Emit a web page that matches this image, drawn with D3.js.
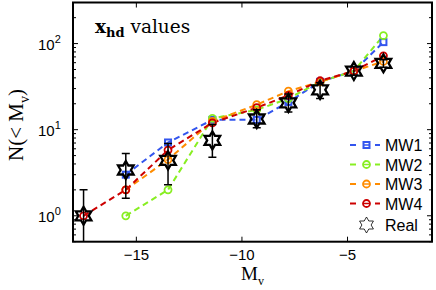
<!DOCTYPE html>
<html><head><meta charset="utf-8">
<script src="https://cdn.jsdelivr.net/npm/d3@7"></script>
<style>body{margin:0;background:#fff}svg{display:block}</style>
</head><body>
<script>
// ---- data ----
const realX   = [-17.5, -15.5, -13.5, -11.4, -9.3, -7.8, -6.3, -4.7, -3.3];
const realN   = [1, 3.4, 4.4, 7.5, 13.3, 20.5, 29, 48, 59];
const realHi  = [2, 5.3, 6.9, 11.5, 17, 26, 35, 54, 65];
const realLo  = [0.1, 1.6, 2.3, 4.8, 10.5, 16, 23, 43, 53];

const mw1X = [-15.5, -13.5, -11.4, -9.3, -7.8, -6.3, -4.7, -3.3];
const mw1N = [3, 7.1, 13, 13, 21, 36, 48, 104];
const mw2X = [-15.5, -13.5, -11.4, -9.3, -7.8, -6.3, -4.7, -3.3];
const mw2N = [1, 2, 13.5, 17, 23, 36, 48, 124];
const mw3X = [-15.5, -13.5, -11.4, -9.3, -7.8, -6.3, -4.7, -3.3];
const mw3N = [2, 4.5, 12.5, 19.5, 28, 36, 48, 62];
const mw4X = [-17.5, -15.5, -13.5, -11.4, -9.3, -7.8, -6.3, -4.7, -3.3];
const mw4N = [1, 2, 5.8, 12, 18, 25, 37, 48, 72];

const seriesNames  = ["MW1", "MW2", "MW3", "MW4"];
const seriesColors = ["#3355ee", "#88ee22", "#ff8c00", "#cc0000"];
const seriesShapes = ["square", "circle", "circle", "circle"];
const xTicks = [-15, -10, -5];
const yTicks = [1, 10, 100];
const yTickExp = ["0", "1", "2"];

const series = [
  {x: mw1X, n: mw1N}, {x: mw2X, n: mw2N}, {x: mw3X, n: mw3N}, {x: mw4X, n: mw4N}
];

// ---- layout ----
const W = 436, H = 290;
const L = 73, R = 432, T = 2.5, B = 241.7;
const svg = d3.select("body").append("svg").attr("width", W).attr("height", H);

const x = d3.scaleLinear().domain([-18, -1]).range([L, R]);
const y = d3.scaleLog().domain([0.5, 300]).range([B, T]);

svg.append("defs").append("clipPath").attr("id", "clip")
  .append("rect").attr("x", L).attr("y", T).attr("width", R - L).attr("height", B - T);

const sans = "Liberation Sans, Arial, sans-serif";
const serif = "Liberation Serif, Times New Roman, serif";
const wserif = "DejaVu Serif, serif";

// ticks
const tickG = svg.append("g").attr("stroke", "#000").attr("stroke-width", 1);
xTicks.forEach(v => {
  tickG.append("line").attr("x1", x(v)).attr("x2", x(v)).attr("y1", B).attr("y2", B - 5);
  tickG.append("line").attr("x1", x(v)).attr("x2", x(v)).attr("y1", T).attr("y2", T + 5);
});
const minor = [];
[0.1, 1, 10, 100].forEach(d => { for (let k = 2; k <= 9; k++) { const v = d * k; if (v >= 0.5 && v <= 300) minor.push(v); } });
minor.forEach(v => {
  tickG.append("line").attr("x1", L).attr("x2", L + 3).attr("y1", y(v)).attr("y2", y(v));
  tickG.append("line").attr("x1", R).attr("x2", R - 3).attr("y1", y(v)).attr("y2", y(v));
});
yTicks.forEach(v => {
  tickG.append("line").attr("x1", L).attr("x2", L + 5).attr("y1", y(v)).attr("y2", y(v));
  tickG.append("line").attr("x1", R).attr("x2", R - 5).attr("y1", y(v)).attr("y2", y(v));
});

// tick labels
xTicks.forEach(v => {
  svg.append("text").attr("x", x(v)).attr("y", 259.5).attr("text-anchor", "middle")
    .attr("font-family", sans).attr("font-size", 15).text("\u2212" + Math.abs(v));
});
yTicks.forEach((v, i) => {
  const t = svg.append("text").attr("x", 38).attr("y", y(v) + 6.7)
    .attr("font-family", sans).attr("font-size", 15);
  t.append("tspan").text("10");
  t.append("tspan").attr("dy", -7).attr("font-size", 11).text(yTickExp[i]);
});

// data lines
const plot = svg.append("g").attr("clip-path", "url(#clip)");
const lineGen = d3.line().x(d => x(d[0])).y(d => y(d[1]));
series.forEach((s, i) => {
  const pts = s.x.map((v, j) => [v, s.n[j]]);
  plot.append("path").attr("d", lineGen(pts)).attr("fill", "none")
    .attr("stroke", seriesColors[i]).attr("stroke-width", 2).attr("stroke-dasharray", "6,4");
});
function marker(g, shape, cx, cy, color) {
  if (shape === "square") {
    g.append("rect").attr("x", cx - 3).attr("y", cy - 3).attr("width", 6).attr("height", 6)
      .attr("fill", "none").attr("stroke", color).attr("stroke-width", 2);
  } else {
    g.append("circle").attr("cx", cx).attr("cy", cy).attr("r", 3.5)
      .attr("fill", "none").attr("stroke", color).attr("stroke-width", 1.8);
  }
}
series.forEach((s, i) => {
  s.x.forEach((v, j) => marker(plot, seriesShapes[i], x(v), y(s.n[j]), seriesColors[i]));
});

// error bars & stars
function hexagram(cx, cy, Ro) {
  const ri = Ro / Math.sqrt(3);
  const pts = [];
  for (let k = 0; k < 12; k++) {
    const a = -Math.PI / 2 + k * Math.PI / 6;
    const rr = k % 2 === 0 ? Ro : ri;
    pts.push([cx + rr * Math.cos(a), cy + rr * Math.sin(a)]);
  }
  return "M" + pts.map(p => p.join(",")).join("L") + "Z";
}
realX.forEach((v, j) => {
  const cx = x(v);
  plot.append("line").attr("x1", cx).attr("x2", cx).attr("y1", y(realLo[j])).attr("y2", y(realHi[j]))
    .attr("stroke", "#000").attr("stroke-width", 1.5);
  [realLo[j], realHi[j]].forEach(e => {
    plot.append("line").attr("x1", cx - 4).attr("x2", cx + 4).attr("y1", y(e)).attr("y2", y(e))
      .attr("stroke", "#000").attr("stroke-width", 1.5);
  });
  plot.append("path").attr("d", hexagram(cx, y(realN[j]), 9))
    .attr("fill", "none").attr("stroke", "#000").attr("stroke-width", 2.3).attr("stroke-linejoin", "miter");
});

// frame
svg.append("rect").attr("x", L).attr("y", T).attr("width", R - L).attr("height", B - T)
  .attr("fill", "none").attr("stroke", "#000").attr("stroke-width", 2);

// legend
const legY = [145, 164.5, 184, 203.5];
seriesNames.forEach((nm, i) => {
  const cy = legY[i];
  const g = svg.append("g");
  g.append("line").attr("x1", 350).attr("x2", 356).attr("y1", cy).attr("y2", cy)
    .attr("stroke", seriesColors[i]).attr("stroke-width", 2);
  g.append("line").attr("x1", 375).attr("x2", 380).attr("y1", cy).attr("y2", cy)
    .attr("stroke", seriesColors[i]).attr("stroke-width", 2);
  g.append("line").attr("x1", 363).attr("x2", 370).attr("y1", cy).attr("y2", cy)
    .attr("stroke", seriesColors[i]).attr("stroke-width", 1.5);
  marker(g, seriesShapes[i], 366.5, cy, seriesColors[i]);
  g.append("text").attr("x", 385).attr("y", cy + 6).attr("font-family", sans)
    .attr("font-size", 16).text(nm);
});
svg.append("path").attr("d", hexagram(366.5, 225, 8)).attr("fill", "#fff")
  .attr("stroke", "#000").attr("stroke-width", 0.8);
svg.append("text").attr("x", 385).attr("y", 231).attr("font-family", sans)
  .attr("font-size", 16).text("Real");

// title
const tt = svg.append("text").attr("x", 95).attr("y", 33).attr("font-family", wserif).attr("font-size", 18.5);
tt.append("tspan").attr("font-weight", "bold").text("x");
tt.append("tspan").attr("font-weight", "bold").attr("font-size", 13).attr("dy", 4).text("hd");
tt.append("tspan").attr("dy", -4).text(" values");

// axis labels
const xl = svg.append("text").attr("x", 241).attr("y", 279.5).attr("font-family", serif).attr("font-size", 19);
xl.append("tspan").text("M");
xl.append("tspan").attr("font-size", 12).attr("dy", 5).text("v");

const yl = svg.append("text").attr("transform", "translate(23,161) rotate(-90)")
  .attr("font-family", serif).attr("font-size", 21);
yl.append("tspan").text("N(< M");
yl.append("tspan").attr("font-size", 14).attr("dy", 6).text("v");
yl.append("tspan").attr("dy", -6).text(")");
</script>
</body></html>
